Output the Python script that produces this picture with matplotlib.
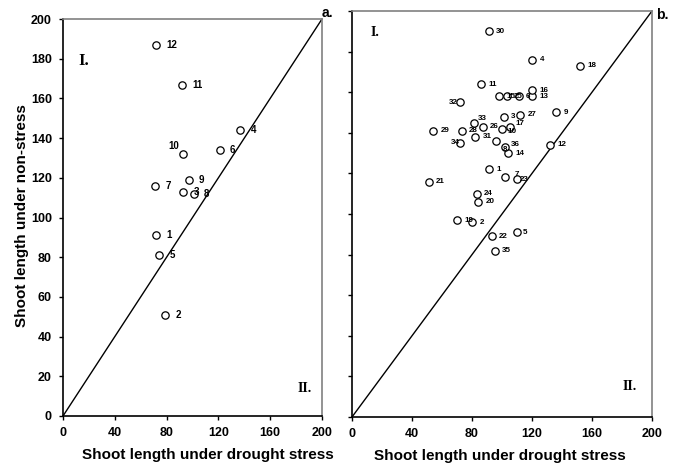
import matplotlib.pyplot as plt

# Panel a: 12 genotypes
ids_a = ["1", "2", "3", "4", "5", "6", "7", "8", "9", "10", "11", "12"]
drought_a = [72, 79, 93, 137, 74, 121, 71, 101, 97, 93, 92, 72]
nonstress_a = [91, 51, 113, 144, 81, 134, 116, 112, 119, 132, 167, 187]

# Panel b: 36 genotypes
ids_b = [str(i) for i in range(1, 37)]
drought_b = [91, 80, 101, 120, 110, 111, 102, 96, 136, 100,
             86, 132, 120, 104, 98, 120, 105, 152, 70, 84,
             51, 93, 110, 83, 103, 87, 112, 73, 54, 91,
             82, 72, 81, 72, 95, 102]
nonstress_b = [122, 96, 148, 176, 91, 158, 118, 136, 150, 142,
               164, 134, 158, 130, 158, 161, 143, 173, 97, 106,
               116, 89, 117, 110, 158, 143, 149, 141, 141, 190,
               138, 155, 145, 135, 82, 133]

# label offsets in points (dx, dy, ha) where the default does not fit
offsets_a = {"10": (-3, 6, "right")}
offsets_b = {"32": (-2, 0, "right"), "34": (0, 0, "right"), "33": (3, 3, "left"),
             "8": (5, -6, "left"), "36": (4, 2, "left"), "7": (7, 2, "left"),
             "23": (2, 0, "left"), "17": (4, 2, "left"), "5": (4, 0, "left"),
             "10": (4, -2, "left")}

plt.rcParams["font.family"] = ["Liberation Sans", "DejaVu Sans"]
plt.rcParams["font.weight"] = "bold"

fig = plt.figure(figsize=(6.78, 4.68), dpi=100)
ax_a = fig.add_axes([63 / 678, 52 / 468, 259 / 678, 397 / 468])
ax_b = fig.add_axes([352 / 678, 51 / 468, 300 / 678, 406 / 468])


def draw_panel(ax, xs, ys, ids, offsets, dx_default, fsize):
    ax.plot([0, 200], [0, 200], color="black", lw=1.0, zorder=1)
    ax.scatter(xs, ys, s=28, facecolors="white", edgecolors="black", linewidths=0.9, zorder=3)
    for x, y, lab in zip(xs, ys, ids):
        dx, dy, ha = offsets.get(lab, (dx_default, 0, "left"))
        ax.annotate(lab, (x, y), xytext=(dx, dy), textcoords="offset points",
                    ha=ha, va="center", fontsize=fsize, fontweight="bold", zorder=4)
    ax.set_xlim(0, 200)
    ax.set_ylim(0, 200)
    ax.set_xticks(range(0, 201, 40))
    ax.set_yticks(range(0, 201, 20))
    ax.tick_params(direction="out", length=3, width=1, labelsize=9, pad=5)
    for side in ["top", "right"]:
        ax.spines[side].set_color("#808080")
        ax.spines[side].set_linewidth(1.2)
    for side in ["left", "bottom"]:
        ax.spines[side].set_color("black")
        ax.spines[side].set_linewidth(1.2)


draw_panel(ax_a, drought_a, nonstress_a, ids_a, offsets_a, 7.5, 7)
draw_panel(ax_b, drought_b, nonstress_b, ids_b, offsets_b, 5.5, 5.8)
ax_b.set_yticklabels([])

for lab in ax_a.get_xticklabels() + ax_a.get_yticklabels() + ax_b.get_xticklabels():
    lab.set_fontweight("bold")

# quadrant marks
serif = ["Liberation Serif", "DejaVu Serif"]
fig.text(84 / 678, 1 - 61 / 468, "I.", ha="center", va="center", fontsize=12, fontweight="bold", family=serif)
fig.text(305 / 678, 1 - 389 / 468, "II.", ha="center", va="center", fontsize=10, fontweight="bold", family=serif)
fig.text(375 / 678, 1 - 33 / 468, "I.", ha="center", va="center", fontsize=10, fontweight="bold", family=serif)
fig.text(630 / 678, 1 - 386 / 468, "II.", ha="center", va="center", fontsize=10, fontweight="bold", family=serif)

fig.text(327 / 678, 1 - 13 / 468, "a.", ha="center", va="center", fontsize=10, fontweight="bold")
fig.text(662 / 678, 1 - 15 / 468, "b.", ha="center", va="center", fontsize=10, fontweight="bold")

fig.text(208 / 678, 1 - 455 / 468, "Shoot length under drought stress", ha="center", va="center",
         fontsize=11, fontweight="bold")
fig.text(500 / 678, 1 - 456 / 468, "Shoot length under drought stress", ha="center", va="center",
         fontsize=11, fontweight="bold")
fig.text(22 / 678, 1 - 216 / 468, "Shoot length under non-stress", ha="center", va="center",
         rotation=90, fontsize=11, fontweight="bold")

fig.savefig("out.png", dpi=100)
